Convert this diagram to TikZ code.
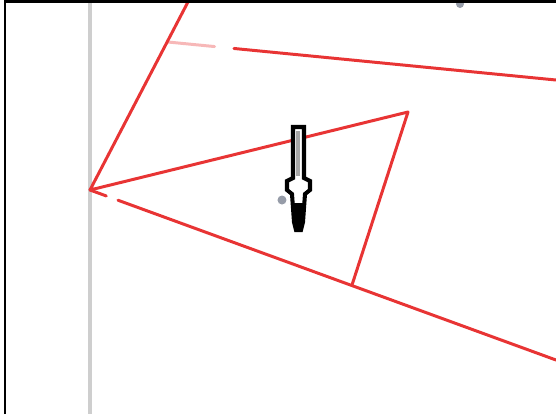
\documentclass[tikz,border=0pt]{standalone}
\usetikzlibrary{arrows.meta,calc}
\definecolor{penred}{RGB}{232,52,52}
\definecolor{rulegray}{RGB}{206,206,206}
\definecolor{dotgray}{RGB}{150,156,168}

\begin{document}
\begin{tikzpicture}[x=0.02cm,y=-0.02cm,
  redline/.style={penred,line width=1.7pt,line cap=round,line join=round},
  fadeline/.style={redline,opacity=0.35},
  hollowarrow/.style={draw=black,fill=white,line width=2.3pt,line join=miter}]
\useasboundingbox (0,0) rectangle (556,414);
% pixel grid: 1 unit = 1 px, y runs down
\coordinate (apex) at (90,190);
\coordinate (topA) at (189,0);
\coordinate (kink) at (168,42);
\coordinate (endB) at (556,80);
\coordinate (tipC) at (408,112);
\coordinate (footD) at (352,285);
\coordinate (endE) at (556,360);
\draw[rulegray,line width=1.8pt] (90,0) -- (90,414);
\fill[dotgray] (282,200) circle (4.5);
\fill[dotgray] (460,4) circle (4);
% red strokes
\draw[redline] (topA) -- (apex) -- (tipC) -- (footD);
\draw[fadeline] (kink) -- ($(kink)!0.12!(endB)$);
\draw[redline] ($(kink)!0.17!(endB)$) -- (endB);
\draw[redline] (apex) -- ($(apex)!0.035!(endE)$);
\draw[redline] ($(apex)!0.06!(endE)$) -- (endE);
% arrow pointing down
\draw[hollowarrow] (293,127) -- (304,127) -- (304,178) -- (310,181) -- (310,190)
  -- (305,194) -- (303,222) -- (301,230) -- (296,230) -- (294,222) -- (292,194)
  -- (287,190) -- (287,181) -- (293,178) -- cycle;
\fill (293,203) -- (304,203) -- (302,230) -- (295,230) -- cycle;
\fill[gray!70] (296.5,131) rectangle (300.5,176);
% frame, top and left only
\draw[line width=1.2pt] (5,414) -- (5,1.5) -- (556,1.5);
\end{tikzpicture}
\end{document}
